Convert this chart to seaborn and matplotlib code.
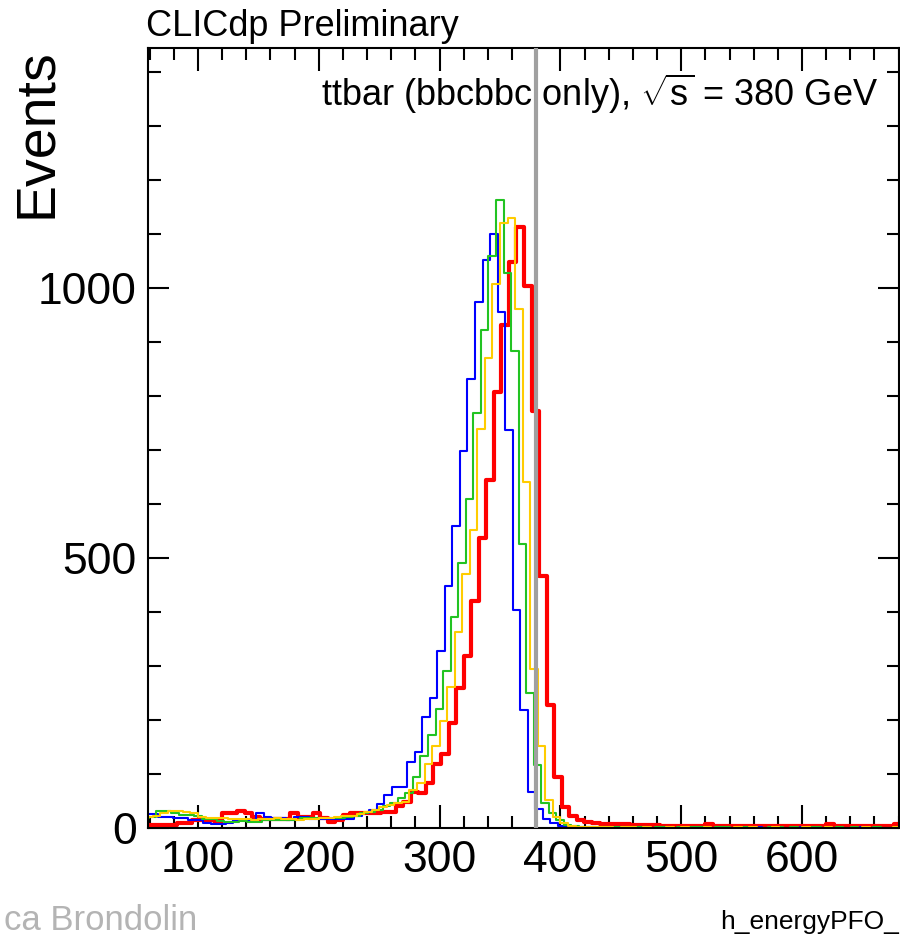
import numpy as np
import pandas as pd
import matplotlib
matplotlib.use("Agg")
import matplotlib.pyplot as plt
import seaborn as sns
from matplotlib.ticker import MultipleLocator

# ---------------- data (bin counts) ----------------
BIN_WIDTH = 6.25
sqrt_s = 380

blue_start = 54.3
blue_counts = [26, 26, 20, 20, 19, 19, 15, 15, 10, 8, 8, 9, 14, 15, 15, 27, 20, 19, 19, 15,
               20, 20, 16, 16, 16, 16, 17, 17, 22, 27, 33,
               44, 61, 76, 76, 123, 140, 205, 241, 328, 449, 559, 698, 831, 975, 1052, 1101,
               955, 737, 403, 219, 67, 35, 16, 9, 4,
               2, 2, 1, 1, 0, 1, 2, 1, 0, 0, 1, 0, 0, 1, 0, 0, 0, 1, 0, 0, 1, 0, 0, 0, 0, 1,
               0, 0, 0, 0, 0, 1, 0, 0, 0, 0, 0, 0, 0, 1, 0, 0, 0, 0, 0, 0]

green_start = 52.9
green_counts = [19, 21, 32, 31, 27, 24, 24, 22, 16, 16, 13, 12, 12, 13, 12, 12, 14, 15, 15, 14,
                14, 18, 19, 18, 18, 19, 19, 21, 22, 27, 30, 34, 40,
                46, 55, 64, 95, 134, 173, 220, 290, 391, 491, 610, 769, 922, 1059, 1163, 1029,
                883, 526, 250, 117, 46, 27, 15, 6,
                3, 2, 2, 1, 2, 1, 1, 2, 1, 1, 0, 1, 1, 0, 1, 1, 2, 1, 0, 1, 1, 0, 1, 1, 0, 0,
                1, 1, 0, 1, 0, 1, 1, 0, 0, 1, 0, 1, 0, 0, 1, 0, 0, 1, 0]

yellow_start = 56.25
yellow_counts = [20, 22, 27, 31, 31, 30, 28, 20, 19, 19, 18, 17, 16, 17, 15, 16, 17, 18, 16, 16,
                 15, 16, 16, 18, 19, 20, 22, 23, 26, 30, 33, 38, 42,
                 46, 49, 70, 83, 119, 152, 199, 262, 364, 471, 552, 740, 870, 1007, 1120, 1130,
                 961, 641, 295, 152, 52, 21, 9, 4,
                 2, 2, 1, 1, 1, 0, 1, 1, 0, 1, 0, 0, 1, 0, 1, 0, 0, 1, 0, 0, 0, 1, 0, 1, 0, 0,
                 1, 0, 0, 0, 1, 0, 0, 1, 0, 0, 0, 0, 1, 0, 0, 0, 1, 0, 0]

red_start = 57.4
red_counts = [5, 5, 6, 5, 10, 10, 15, 14, 14, 13, 28, 28, 32, 27, 21, 16, 17, 16, 16, 27,
              21, 21, 28, 18, 12, 15, 24, 27, 27, 27, 28, 30,
              30, 40, 49, 67, 65, 83, 119, 137, 195, 259, 318, 421, 537, 644, 808, 931, 1049,
              1113, 1004, 772, 466, 228, 95, 38, 22, 15, 12,
              9, 8, 8, 7, 7, 6, 6, 5, 5, 4, 4, 4, 4, 4, 4, 7, 4, 3, 4, 3, 4, 3, 3, 4, 3, 3,
              4, 3, 3, 3, 4, 7, 3, 3, 3, 4, 3, 3, 3, 3, 8, 8, 3]

x_ticks = [100, 200, 300, 400, 500, 600]
y_ticks = [0, 500, 1000]

# ---------------- style ----------------
sns.set_theme(style="white")
plt.rcParams['font.family'] = ['Liberation Sans', 'DejaVu Sans']
plt.rcParams['mathtext.fontset'] = 'custom'
plt.rcParams['mathtext.rm'] = 'Liberation Sans'
plt.rcParams['mathtext.it'] = 'Liberation Sans:italic'
plt.rcParams['text.color'] = 'black'
plt.rcParams['axes.labelcolor'] = 'black'
plt.rcParams['xtick.color'] = 'black'
plt.rcParams['ytick.color'] = 'black'

W, H = 900, 939
fig = plt.figure(figsize=(W / 100, H / 100), dpi=100)
fig.patch.set_facecolor('white')
ax = fig.add_axes([148 / W, 1 - 828 / H, (899 - 148) / W, (828 - 48) / H])
ax.set_facecolor('white')

series = [
    ("red", red_start, red_counts, "#ff0000", 3.0),
    ("blue", blue_start, blue_counts, "#0000ff", 1.5),
    ("green", green_start, green_counts, "#22c322", 1.5),
    ("yellow", yellow_start, yellow_counts, "#ffcc00", 1.5),
]
for name, start, counts, color, lw in series:
    n = len(counts)
    lo = start
    hi = start + BIN_WIDTH * n
    df = pd.DataFrame({"energy": lo + BIN_WIDTH * (np.arange(n) + 0.5), "n": counts})
    sns.histplot(data=df, x="energy", weights="n", bins=n, binrange=(lo, hi),
                 element="step", fill=False, color=color, linewidth=lw, ax=ax)

ax.axvline(sqrt_s, color="#a0a0a0", lw=3, zorder=5)

ax.set_xlim(58.6, 680.3)
ax.set_ylim(0, 1445)
ax.set_xlabel("")
ax.set_ylabel("")

ax.set_xticks(x_ticks)
ax.set_xticklabels([str(v) for v in x_ticks])
ax.set_yticks(y_ticks)
ax.set_yticklabels([str(v) for v in y_ticks])
ax.xaxis.set_minor_locator(MultipleLocator(20))
ax.yaxis.set_minor_locator(MultipleLocator(100))

ax.tick_params(which='both', direction='in', top=True, right=True, bottom=True, left=True,
               colors='black', labelcolor='black', width=1.5, labelsize=32)
ax.tick_params(axis='x', which='major', length=16.5, pad=9)
ax.tick_params(axis='x', which='minor', length=8.6)
ax.tick_params(axis='y', which='major', length=15, pad=8)
ax.tick_params(axis='y', which='minor', length=9)
for sp in ax.spines.values():
    sp.set_color('black')
    sp.set_linewidth(1.5)

# ---------------- texts ----------------
fig.text(37 / W, 1 - 48 / H, "Events", rotation=90, ha='center', va='top', fontsize=40,
         color='black')
fig.text(146 / W, 1 - 36 / H, "CLICdp Preliminary", ha='left', va='baseline', fontsize=26,
         color='black')
fig.text(878 / W, 1 - 106 / H, r"ttbar (bbcbbc only), $\sqrt{\mathrm{s}}$ = 380 GeV",
         ha='right', va='baseline', fontsize=26, color='black')
fig.text(720 / W, 1 - 929 / H, "h_energyPFO_", ha='left', va='baseline', fontsize=19,
         color='black')
fig.text(4 / W, 1 - 930 / H, "ca Brondolin", ha='left', va='baseline', fontsize=25,
         color='#b4b4b4')

fig.savefig("out.png", dpi=100)
